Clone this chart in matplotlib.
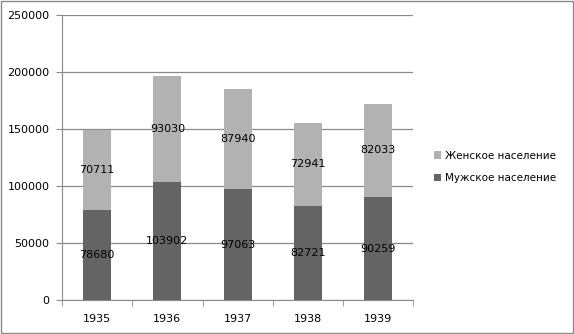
import matplotlib
matplotlib.use("Agg")
import matplotlib.pyplot as plt
from matplotlib.patches import Rectangle

# Data
years = ["1935", "1936", "1937", "1938", "1939"]
male = [78680, 103902, 97063, 82721, 90259]
female = [70711, 93030, 87940, 72941, 82033]
male_label = "Мужское население"
female_label = "Женское население"

male_color = "#646464"
female_color = "#b2b2b2"

plt.rcParams["font.family"] = ["DejaVu Sans"]

fig = plt.figure(figsize=(5.74, 3.34), dpi=100)
ax = fig.add_axes([0.108, 0.102, 0.612, 0.853])

x = list(range(len(years)))
b_male = ax.bar(x, male, width=0.4, color=male_color, label=male_label, zorder=3)
b_female = ax.bar(x, female, width=0.4, bottom=male, color=female_color,
                  label=female_label, zorder=3)

# Data labels in the middle of each segment
ax.bar_label(b_male, labels=[str(v) for v in male], label_type="center",
             fontsize=8, color="black", zorder=4)
ax.bar_label(b_female, labels=[str(v) for v in female], label_type="center",
             fontsize=8, color="black", zorder=4)

ax.set_xlim(-0.5, len(years) - 0.5)
ax.set_ylim(0, 250000)
ax.set_yticks(range(0, 250001, 50000))
ax.yaxis.grid(True, color="#8a8a8a", linewidth=0.9, zorder=0)

ax.set_xticks(x)
ax.set_xticklabels(years)
ax.set_xticks([i + 0.5 for i in range(-1, len(years))], minor=True)
ax.tick_params(axis="x", which="major", length=0, labelsize=8, pad=10)
ax.tick_params(axis="x", which="minor", length=4, color="#8a8a8a")
ax.tick_params(axis="y", length=4, color="#8a8a8a", labelsize=8, pad=5)

for side in ["top", "right"]:
    ax.spines[side].set_visible(False)
for side in ["left", "bottom"]:
    ax.spines[side].set_color("#8a8a8a")

handles, labels = ax.get_legend_handles_labels()
fig.legend(handles[::-1], labels[::-1], loc="center left",
           bbox_to_anchor=(0.74, 0.5), frameon=False, fontsize=7.5,
           handlelength=0.7, handleheight=0.7, handletextpad=0.35,
           labelspacing=1.2)

# Outer border of the chart area
fig.patches.append(Rectangle((0.001, 0.002), 0.997, 0.995, transform=fig.transFigure,
                             fill=False, edgecolor="#8a8a8a", linewidth=1))

fig.savefig("out.png", dpi=100)
